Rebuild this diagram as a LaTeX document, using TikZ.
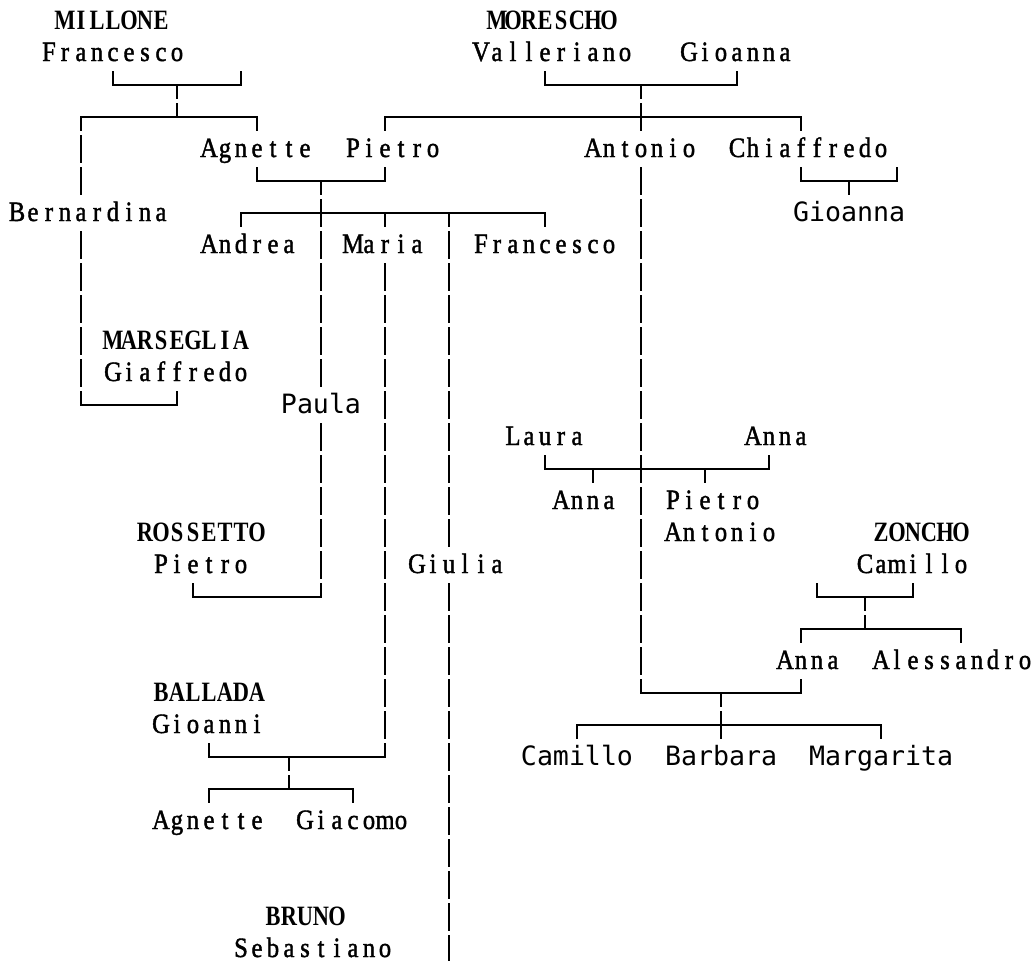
\documentclass[tikz,border=0pt]{standalone}
\usepackage{fontspec}
\newfontfamily\fSerif[FakeStretch=0.88,FakeBold=1.5]{Liberation Serif}
\newfontfamily\fSerifB[FakeStretch=0.8]{Liberation Serif Bold}
\newfontfamily\fSans{DejaVu Sans Mono}
\newcommand\txSerif{\fSerif\fontsize{28}{32}\selectfont}
\newcommand\txBold{\fSerifB\fontsize{28}{32}\selectfont}
\newcommand\txSans{\fSans\fontsize{26.6}{32}\selectfont}
\def\cellsloop#1{\ifx#1\relax\else\makebox[16pt]{#1}\expandafter\cellsloop\fi}
\newcommand\cells[1]{\cellsloop#1\relax}
\tikzset{
  ln/.style={line width=1.8pt, line cap=rect},
  nm/.style={anchor=base west, inner sep=0pt, outer sep=0pt}
}
% box-drawing pieces: x in px, row index
\newcommand\gV[2]{\draw[ln] (#1,{19+32*#2-11}) -- (#1,{19+32*#2+15});}
\newcommand\gUp[2]{\draw[ln] (#1,{19+32*#2-11}) -- (#1,{19+32*#2+2});}
\newcommand\gDn[2]{\draw[ln] (#1,{19+32*#2+2}) -- (#1,{19+32*#2+15});}
\newcommand\gH[3]{\draw[ln] (#1,{19+32*#3+2}) -- (#2,{19+32*#3+2});}
\newcommand\gVrun[3]{\foreach \rr in {#2,...,#3}{\gV{#1}{\rr}}}
\newcommand\nm[5]{\node[nm] (#1) at ({16*#3+9},{19+32*#4+10}) {#2\cells{#5}};}
\begin{document}
\begin{tikzpicture}[x=1pt,y=-1pt]
\useasboundingbox[fill=white] (0,0) rectangle (1036,961);
% ---- names ----
\nm{millone}{\txBold}{3}{0}{MILLONE}
\nm{moreschoo}{\txBold}{30}{0}{MORESCHO}
\nm{francescoA}{\txSerif}{2}{1}{Francesco}
\nm{valleriano}{\txSerif}{29}{1}{Valleriano}
\nm{gioannaA}{\txSerif}{42}{1}{Gioanna}
\nm{agnetteA}{\txSerif}{12}{4}{Agnette}
\nm{pietroA}{\txSerif}{21}{4}{Pietro}
\nm{antonioA}{\txSerif}{36}{4}{Antonio}
\nm{chiaffredo}{\txSerif}{45}{4}{Chiaffredo}
\nm{bernardina}{\txSerif}{0}{6}{Bernardina}
\nm{gioannaB}{\txSans}{49}{6}{Gioanna}
\nm{andrea}{\txSerif}{12}{7}{Andrea}
\nm{maria}{\txSerif}{21}{7}{Maria}
\nm{francescoB}{\txSerif}{29}{7}{Francesco}
\nm{marseglia}{\txBold}{6}{10}{MARSEGLIA}
\nm{giaffredo}{\txSerif}{6}{11}{Giaffredo}
\nm{paula}{\txSans}{17}{12}{Paula}
\nm{laura}{\txSerif}{31}{13}{Laura}
\nm{annaA}{\txSerif}{46}{13}{Anna}
\nm{annaB}{\txSerif}{34}{15}{Anna}
\nm{pietroB}{\txSerif}{41}{15}{Pietro}
\nm{rossetto}{\txBold}{8}{16}{ROSSETTO}
\nm{antonioB}{\txSerif}{41}{16}{Antonio}
\nm{zoncho}{\txBold}{54}{16}{ZONCHO}
\nm{pietroC}{\txSerif}{9}{17}{Pietro}
\nm{giulia}{\txSerif}{25}{17}{Giulia}
\nm{camilloA}{\txSerif}{53}{17}{Camillo}
\nm{annaC}{\txSerif}{48}{20}{Anna}
\nm{alessandro}{\txSerif}{54}{20}{Alessandro}
\nm{ballada}{\txBold}{9}{21}{BALLADA}
\nm{gioanni}{\txSerif}{9}{22}{Gioanni}
\nm{camilloB}{\txSans}{32}{23}{Camillo}
\nm{barbara}{\txSans}{41}{23}{Barbara}
\nm{margarita}{\txSans}{50}{23}{Margarita}
\nm{agnetteB}{\txSerif}{9}{25}{Agnette}
\nm{giacomo}{\txSerif}{18}{25}{Giacomo}
\nm{bruno}{\txBold}{16}{28}{BRUNO}
\nm{sebastiano}{\txSerif}{14}{29}{Sebastiano}
% ---- MILLONE family ----
\gH{113}{241}{2} \gUp{113}{2} \gUp{241}{2} \gDn{177}{2}
\gH{81}{257}{3} \gUp{177}{3} \gDn{81}{3} \gDn{257}{3}
\gVrun{81}{4}{5} \gVrun{81}{7}{11}
\gUp{81}{12} \gH{81}{177}{12} \gUp{177}{12}
% Agnette x Pietro
\gH{257}{385}{5} \gUp{257}{5} \gUp{385}{5} \gDn{321}{5}
\gH{241}{545}{6} \gDn{241}{6} \gUp{321}{6} \gDn{321}{6} \gDn{385}{6} \gDn{449}{6} \gDn{545}{6}
% Paula
\gVrun{321}{7}{11} \gVrun{321}{13}{17}
\gUp{321}{18} \gH{193}{321}{18} \gUp{193}{18}
% Maria
\gVrun{385}{8}{22}
\gUp{385}{23} \gH{209}{385}{23} \gUp{209}{23} \gDn{289}{23}
\gH{209}{353}{24} \gUp{289}{24} \gDn{209}{24} \gDn{353}{24}
% Giulia
\gVrun{449}{7}{16} \gVrun{449}{18}{29}
% ---- MORESCHO family ----
\gH{545}{737}{2} \gUp{545}{2} \gUp{737}{2} \gDn{641}{2}
\gH{385}{801}{3} \gUp{641}{3} \gDn{641}{3} \gDn{385}{3} \gDn{801}{3}
\gH{801}{897}{5} \gUp{801}{5} \gUp{897}{5} \gDn{849}{5}
% Antonio
\gVrun{641}{5}{20}
\gUp{641}{21} \gH{641}{801}{21} \gUp{801}{21} \gDn{721}{21}
\gH{577}{881}{22} \gUp{721}{22} \gDn{721}{22} \gDn{577}{22} \gDn{881}{22}
% Laura x Anna
\gH{545}{769}{14} \gUp{545}{14} \gUp{769}{14} \gDn{593}{14} \gDn{705}{14}
% ZONCHO
\gH{817}{913}{18} \gUp{817}{18} \gUp{913}{18} \gDn{865}{18}
\gH{801}{961}{19} \gUp{865}{19} \gDn{801}{19} \gDn{961}{19}
\end{tikzpicture}
\end{document}
